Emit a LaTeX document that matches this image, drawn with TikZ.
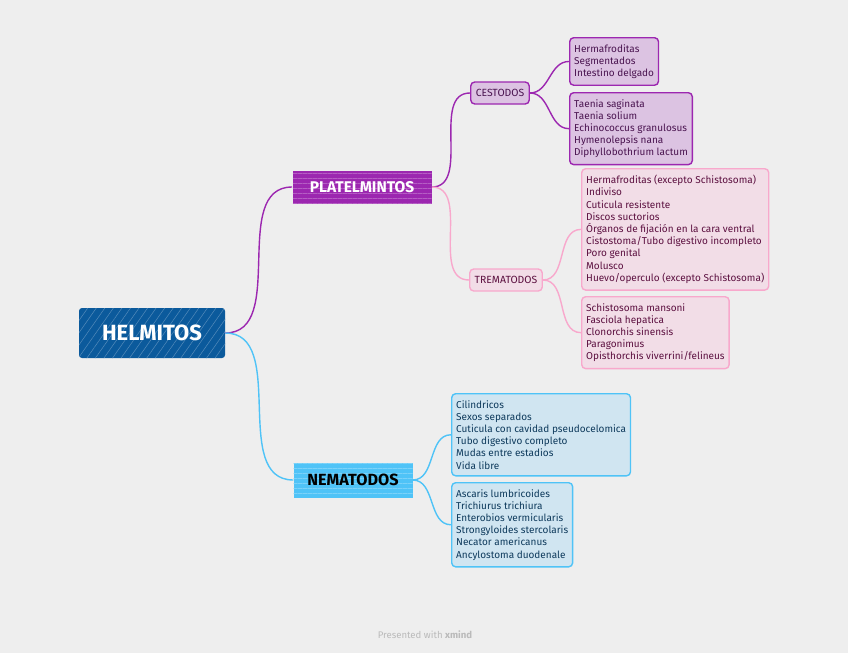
\documentclass[tikz,border=0pt]{standalone}
\usepackage{fontspec}
\setmainfont{Fira Sans}
\usepackage{tikz}
\usetikzlibrary{positioning,patterns.meta}

\definecolor{bgc}{HTML}{EEEEEE}
\definecolor{rootc}{HTML}{0B5A9C}
\definecolor{platc}{HTML}{9C27B0}
\definecolor{platl}{HTML}{DCC3E2}
\definecolor{platt}{HTML}{4A1450}
\definecolor{tremc}{HTML}{F8A8CC}
\definecolor{treml}{HTML}{F2DDE7}
\definecolor{tremt}{HTML}{5C1040}
\definecolor{nemac}{HTML}{4FC3F7}
\definecolor{nemal}{HTML}{D0E5F1}
\definecolor{nemat}{HTML}{0E3A5C}

\begin{document}
\begin{tikzpicture}[x=1pt, y=-1pt,
    leaf/.style={rectangle, draw, line width=1.4pt, rounded corners=4pt, anchor=north west,
        align=left, inner xsep=4.5pt, inner ysep=6.6pt, font=\fontsize{10}{12.2}\selectfont},
    sub/.style={rectangle, draw, line width=1.4pt, rounded corners=4pt, inner xsep=5pt,
        minimum height=22pt, font=\fontsize{10.4}{11}\selectfont},
    link/.style={line width=1.4pt, out=0, in=180}]
    \fill[bgc] (0,0) rectangle (848,653);
    \useasboundingbox (0,0) rectangle (848,653);

    % main topics
    \node (helmitos) [rectangle, preaction={fill=rootc}, text=white, minimum width=146pt, minimum height=50pt,
        rounded corners=3pt, pattern={Lines[angle=55,distance=7pt,line width=0.5pt]}, pattern color=white!30!rootc,
        font=\fontsize{22}{23}\selectfont\bfseries] at (152,333) {HELMITOS};
    \node (plat) [rectangle, preaction={fill=platc}, text=white, minimum width=139pt, minimum height=33pt,
        pattern={Lines[angle=0,distance=5pt,line width=0.6pt]}, pattern color=white!25!platc,
        font=\fontsize{15.5}{16}\selectfont\bfseries] at (362,187) {PLATELMINTOS};
    \node (nema) [rectangle, preaction={fill=nemac}, text=black, minimum width=119pt, minimum height=35pt,
        pattern={Lines[angle=0,distance=5pt,line width=0.6pt]}, pattern color=white!25!nemac,
        font=\fontsize{16.2}{17}\selectfont\bfseries] at (353,480) {NEMATODOS};

    % sub topics
    \node (cest) [sub, draw=platc, fill=platl, text=platt] at (500,93) {CESTODOS};
    \node (trem) [sub, draw=tremc, fill=treml, text=tremt] at (506,280) {TREMATODOS};

    % details
    \node (cestA) [leaf, draw=platc, fill=platl, text=platt] at (569,37)
        {Hermafroditas\\Segmentados\\Intestino delgado};
    \node (cestB) [leaf, draw=platc, fill=platl, text=platt] at (569,92)
        {Taenia saginata\\Taenia solium\\Echinococcus granulosus\\Hymenolepsis nana\\Diphyllobothrium lactum};
    \node (tremA) [leaf, draw=tremc, fill=treml, text=tremt] at (581,168)
        {Hermafroditas (excepto Schistosoma)\\Indiviso\\Cuticula resistente\\Discos suctorios\\%
         Órganos de fijación en la cara ventral\\Cistostoma/Tubo digestivo incompleto\\Poro genital\\%
         Molusco\\Huevo/operculo (excepto Schistosoma)};
    \node (tremB) [leaf, draw=tremc, fill=treml, text=tremt] at (581,296)
        {Schistosoma mansoni\\Fasciola hepatica\\Clonorchis sinensis\\Paragonimus\\Opisthorchis viverrini/felineus};
    \node (nemaA) [leaf, draw=nemac, fill=nemal, text=nemat] at (451,393)
        {Cilindricos\\Sexos separados\\Cuticula con cavidad pseudocelomica\\Tubo digestivo completo\\%
         Mudas entre estadios\\Vida libre};
    \node (nemaB) [leaf, draw=nemac, fill=nemal, text=nemat] at (451,482)
        {Ascaris lumbricoides\\Trichiurus trichiura\\Enterobios vermicularis\\Strongyloides stercolaris\\%
         Necator americanus\\Ancylostoma duodenale};

    % connectors
    \draw[link, platc] (helmitos.east) to (plat.west);
    \draw[link, nemac] (helmitos.east) to (nema.west);
    \draw[link, platc] (plat.east) to (cest.west);
    \draw[link, tremc] (plat.east) to (trem.west);
    \draw[link, platc] (cest.east) to (cestA.west);
    \draw[link, platc] (cest.east) to (cestB.west);
    \draw[link, tremc] (trem.east) to (tremA.west);
    \draw[link, tremc] (trem.east) to (tremB.west);
    \draw[link, nemac] (nema.east) to (nemaA.west);
    \draw[link, nemac] (nema.east) to (nemaB.west);

    \node (footer) [text=black!27, font=\fontsize{9.6}{10}\selectfont] at (425,635)
        {Presented with \textbf{xmind}};
\end{tikzpicture}
\end{document}
